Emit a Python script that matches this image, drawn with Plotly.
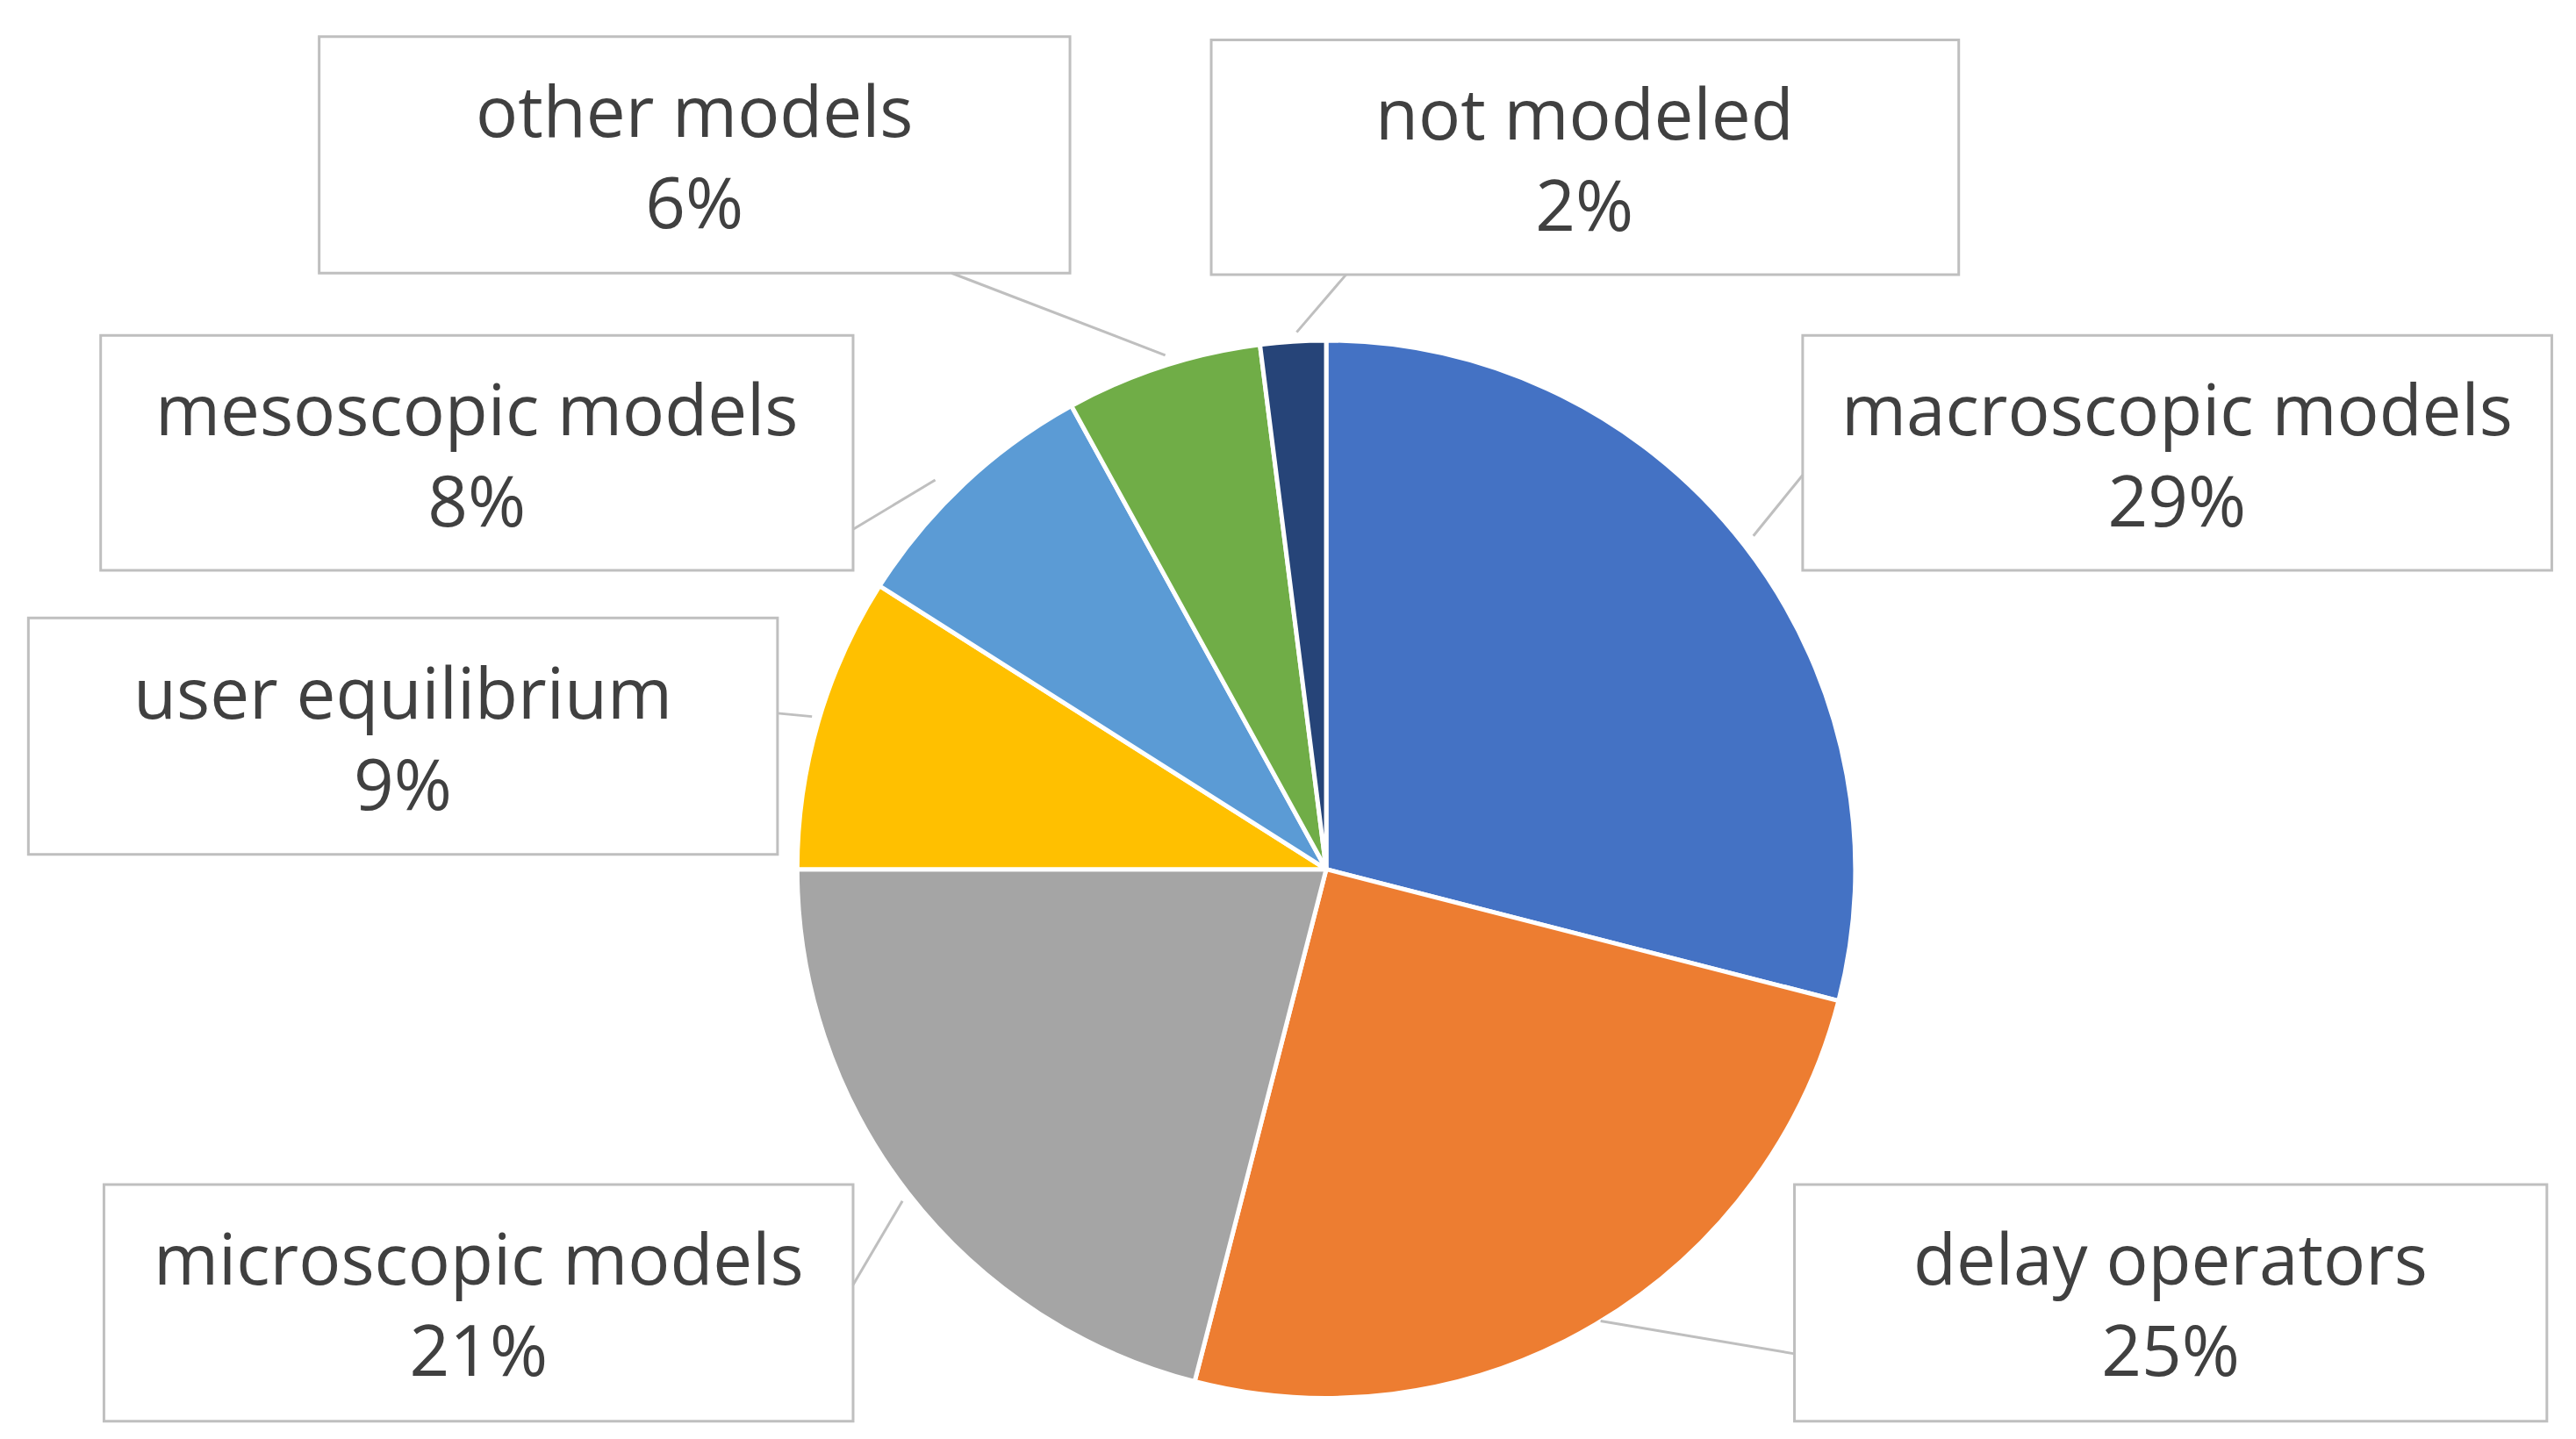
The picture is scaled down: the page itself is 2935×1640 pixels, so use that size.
import plotly.graph_objects as go

labels = ["macroscopic models", "delay operators", "microscopic models", "user equilibrium",
          "mesoscopic models", "other models", "not modeled"]
values = [29, 25, 21, 9, 8, 6, 2]
colors = ["#4472C4", "#ED7D31", "#A5A5A5", "#FFC000", "#5B9BD5", "#70AD47", "#264478"]

W, H = 2935, 1640
S = W / 1568.0
# box (x0,y0,x1,y1) and leader line (bx,by,px,py) in reference display px
boxes = {
    "other models": ((190, 18, 647, 162), (575, 162, 705, 212)),
    "not modeled": ((733, 20, 1188, 163), (815, 163, 785, 198)),
    "mesoscopic models": ((57, 200, 515, 343), (515, 318, 565, 288)),
    "macroscopic models": ((1093, 200, 1549, 343), (1093, 285, 1063, 322)),
    "user equilibrium": ((13, 372, 469, 516), (469, 430, 490, 432)),
    "microscopic models": ((59, 717, 515, 861), (515, 778, 545, 727)),
    "delay operators": ((1088, 717, 1546, 861), (1088, 820, 970, 800)),
}

def px(x): return x * S / W
def py(y): return 1 - y * S / H

cx, cy, r = 803 * S, 525 * S, 322 * S
fig = go.Figure(go.Pie(
    labels=labels, values=values, sort=False, direction="clockwise", rotation=0,
    marker=dict(colors=colors, line=dict(color="white", width=5)),
    textinfo="none", hoverinfo="label+percent",
    domain=dict(x=[(cx - r) / W, (cx + r) / W], y=[1 - (cy + r) / H, 1 - (cy - r) / H]),
))

shapes, annos = [], []
for lab, val in zip(labels, values):
    (x0, y0, x1, y1), (bx, by, qx, qy) = boxes[lab]
    shapes.append(dict(type="rect", xref="paper", yref="paper", x0=px(x0), x1=px(x1),
                       y0=py(y1), y1=py(y0), line=dict(color="#BFBFBF", width=3),
                       fillcolor="white", layer="above"))
    shapes.append(dict(type="line", xref="paper", yref="paper", x0=px(bx), y0=py(by),
                       x1=px(qx), y1=py(qy), line=dict(color="#BFBFBF", width=3)))
    annos.append(dict(xref="paper", yref="paper", x=px((x0 + x1) / 2), y=py((y0 + y1) / 2),
                      xanchor="center", yanchor="middle",
                      text=f"{lab}<br>{val}%", showarrow=False,
                      font=dict(family="Open Sans", size=80, color="#404040"), align="center"))

fig.update_layout(width=W, height=H, margin=dict(l=0, r=0, t=0, b=0),
                  paper_bgcolor="white", showlegend=False, shapes=shapes, annotations=annos)
fig.write_html("out.html")
